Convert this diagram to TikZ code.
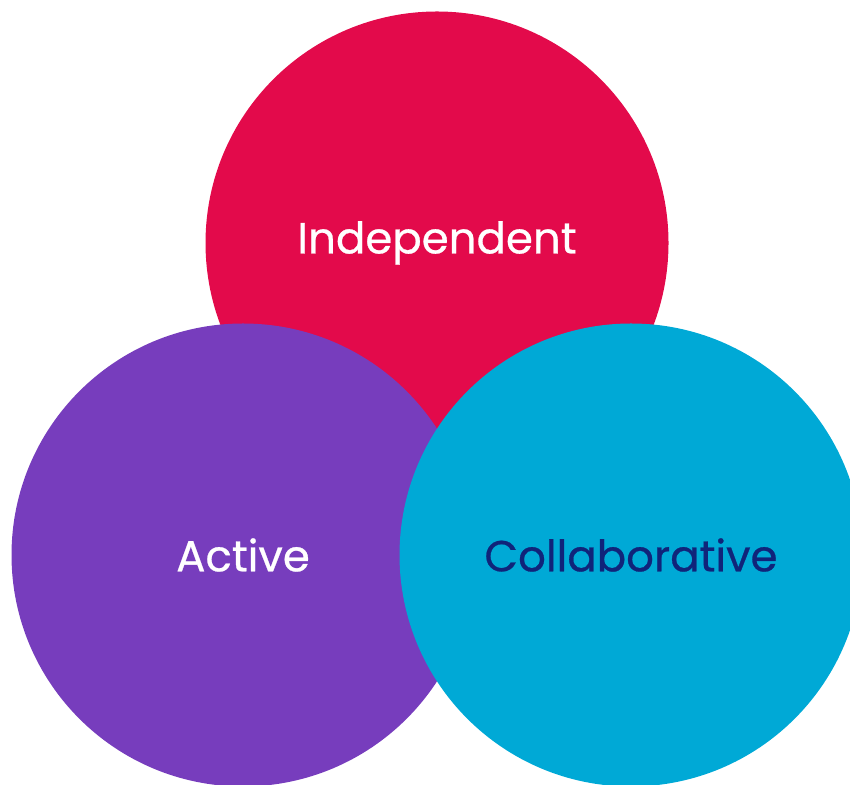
\documentclass[tikz,border=0pt]{standalone}
\usepackage{fontspec}
\setmainfont{Poppins}[FakeBold=0.6]
\definecolor{R}{RGB}{227, 10, 75}
\definecolor{P}{RGB}{119, 61, 189}
\definecolor{C}{RGB}{0, 169, 214}
\definecolor{N}{RGB}{16, 36, 122}
\tikzset{
  bubble/.style={circle, minimum size=463pt, inner sep=0pt},
  word/.style={font=\fontsize{43.5}{50}\selectfont}
}

\begin{document}
\begin{tikzpicture}[x=1pt,y=1pt]
  \useasboundingbox (0,0) rectangle (850,784);
  \begin{scope}
  \clip (0,0) rectangle (850,784);
	%# CIRCULOS
  \node[bubble, fill=R] (indep) at (437,541) {};
  \node[bubble, fill=P] (activ) at (243,229) {};
  \node[bubble, fill=C] (collab) at (631,229) {};
  \end{scope}

	%# TEXTOS
  \node[word, text=white] at (indep.center) {Independent};
  \node[word, text=white] at (activ.center) {Active};
  \node[word, text=N] at (collab.center) {Collaborative};
\end{tikzpicture}
\end{document}
